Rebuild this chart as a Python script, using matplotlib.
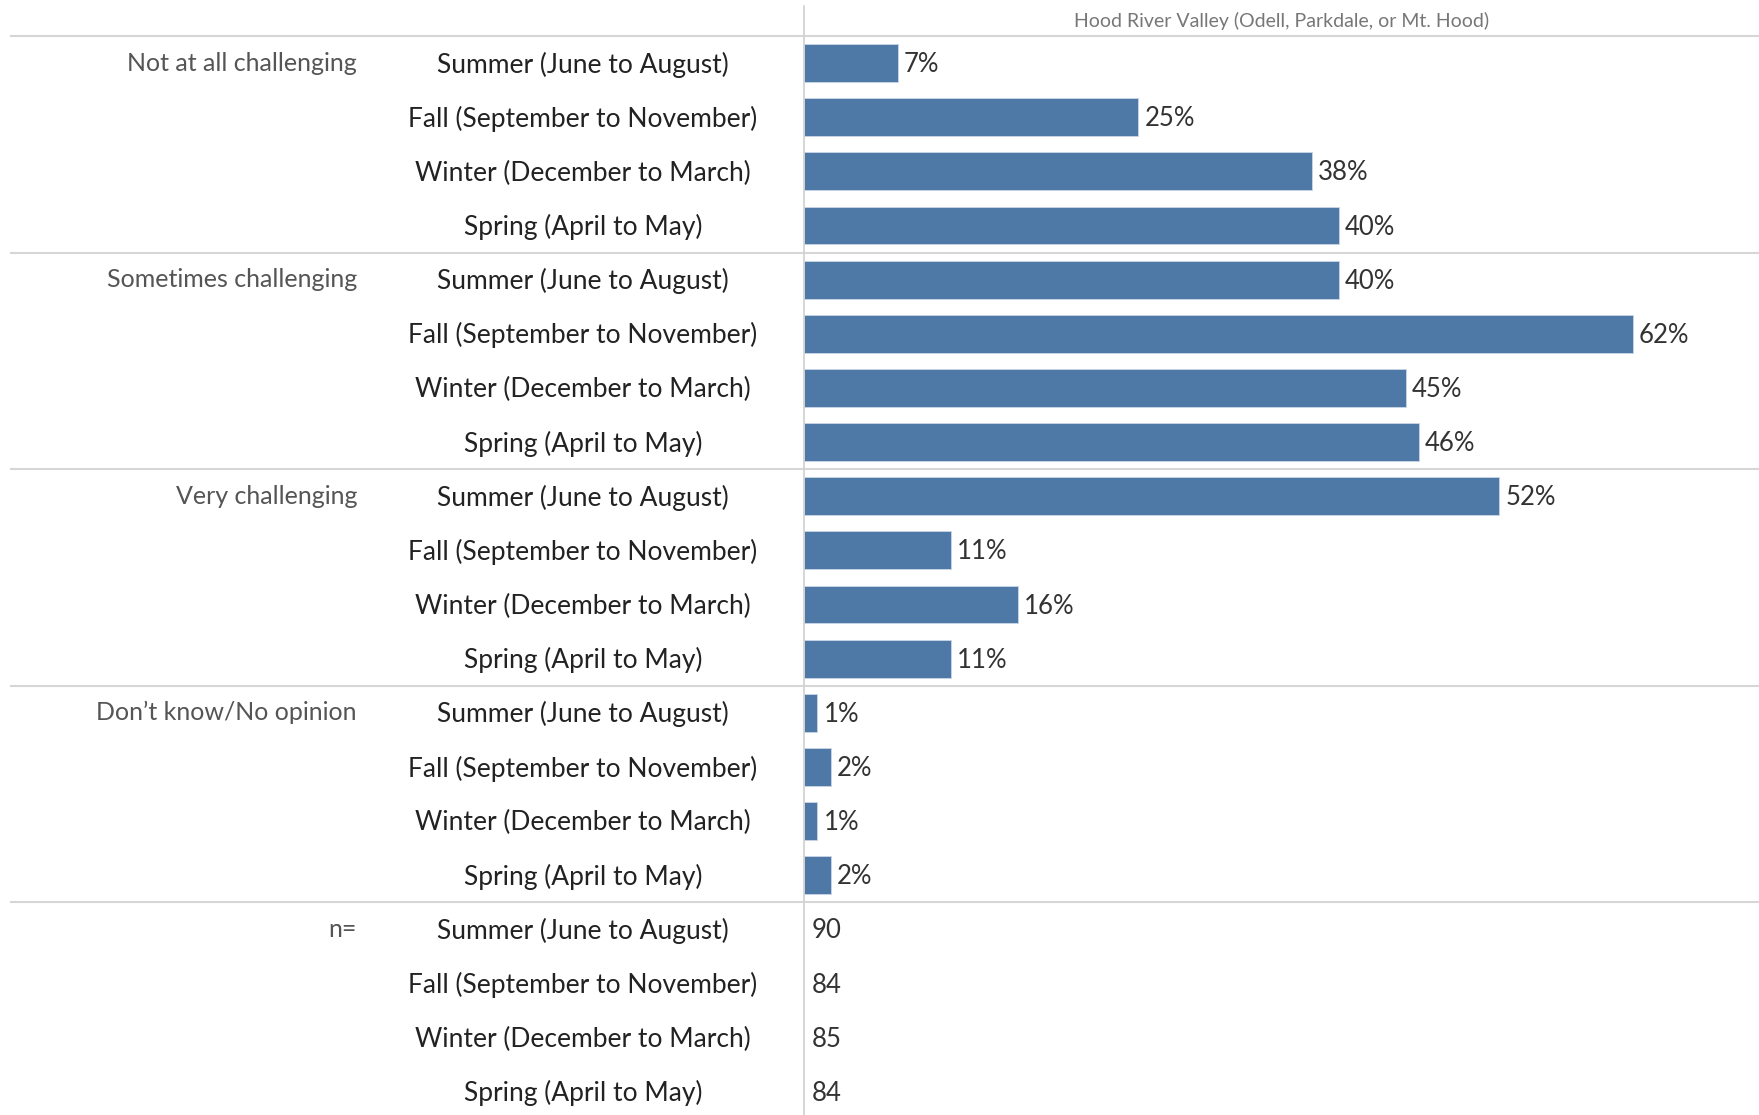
import matplotlib
matplotlib.use("Agg")
import matplotlib.pyplot as plt
import matplotlib.transforms as mtransforms

groups = ["Not at all challenging", "Sometimes challenging", "Very challenging", "Don\u2019t know/No opinion"]
seasons = ["Summer (June to August)", "Fall (September to November)",
           "Winter (December to March)", "Spring (April to May)"]
values = {
    "Not at all challenging": [7, 25, 38, 40],
    "Sometimes challenging": [40, 62, 45, 46],
    "Very challenging": [52, 11, 16, 11],
    "Don\u2019t know/No opinion": [1, 2, 1, 2],
}
n_label = "n="
n_values = [90, 84, 85, 84]
header = "Hood River Valley (Odell, Parkdale, or Mt. Hood)"

W, H = 1759, 1115
fig = plt.figure(figsize=(W / 100, H / 100), dpi=100)
fig.patch.set_facecolor("white")
plt.rcParams['font.family'] = ['Lato', 'DejaVu Sans']

x_axis = 804
top = 36
pitch = 54.14
nrows = 4 * (len(groups) + 1)
total = nrows * pitch
ax = fig.add_axes([x_axis / W, 1 - (top + total) / H, 1 - x_axis / W, total / H])
ax.set_xlim(0, (W - x_axis) / 13.37)
ax.set_ylim(nrows - 0.5, -0.5)
ax.axis("off")

bar_color = "#4e79a7"
blend = mtransforms.blended_transform_factory(fig.transFigure, ax.transData)

season_fs = 19
group_fs = 18
val_fs = 18.5
dy = 0.03

row = 0
for g in groups:
    for i, s in enumerate(seasons):
        v = values[g][i]
        ax.barh(row, v, height=0.7, color=bar_color, edgecolor="#c9d6e6", linewidth=0.6)
        ax.text(v + 0.45, row + dy, f"{v}%", va="center", ha="left", fontsize=val_fs, color="#333333")
        ax.text(583 / W, row + dy, s, transform=blend, ha="center", va="center", fontsize=season_fs, color="#222222")
        if i == 0:
            ax.text(357 / W, row, g, transform=blend, ha="right", va="center", fontsize=group_fs, color="#555555")
        row += 1

for i, s in enumerate(seasons):
    ax.text(0.6, row + dy, str(n_values[i]), va="center", ha="left", fontsize=val_fs, color="#333333")
    ax.text(583 / W, row + dy, s, transform=blend, ha="center", va="center", fontsize=season_fs, color="#222222")
    if i == 0:
        ax.text(357 / W, row, n_label, transform=blend, ha="right", va="center", fontsize=group_fs, color="#555555")
    row += 1

# separators
for k in range(len(groups) + 1):
    yb = 4 * k - 0.5
    ax.plot([11 / W, 1], [yb, yb], transform=blend, color="#d6d6d6", lw=1.5, clip_on=False)

# vertical axis line
fig.add_artist(plt.Line2D([x_axis / W, x_axis / W], [0, 1 - 6 / H], color="#d0d0d0", lw=1.2))

# header
fig.text((x_axis + W) / 2 / W, 1 - 21 / H, header, ha="center", va="center", fontsize=14, color="#777777")

fig.savefig("out.png", dpi=100, facecolor="white")
